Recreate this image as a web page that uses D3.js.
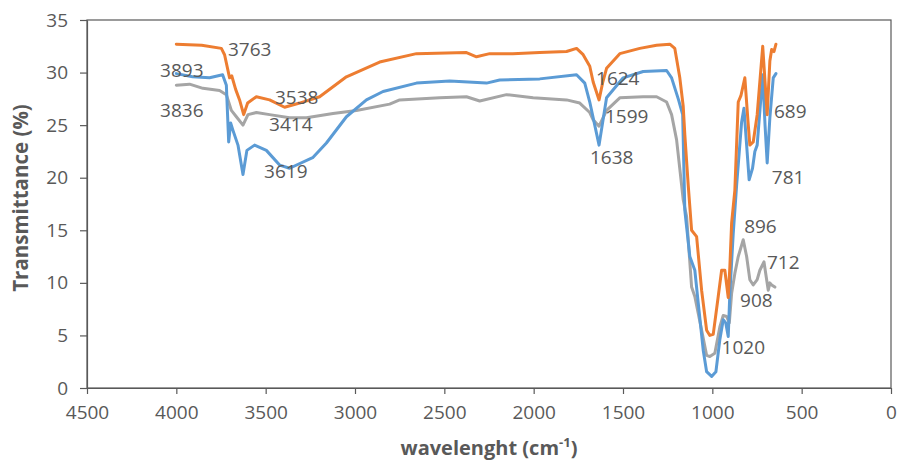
<!DOCTYPE html>
<html><head><meta charset="utf-8">
<script src="https://cdn.jsdelivr.net/npm/d3@7"></script>
<style>
body{margin:0;background:#fff;}
svg{display:block;}
text{font-family:"Open Sans","Noto Sans",sans-serif;fill:#595959;}
</style></head>
<body><svg id="c" width="897" height="463"></svg>
<script>
// ---- data ----
const xTicks = [4500,4000,3500,3000,2500,2000,1500,1000,500,0];
const yTicks = [0,5,10,15,20,25,30,35];

const orangeWn = [4000,3858,3748,3730,3702,3690,3668,3646,3623,3601,3552,3478,3394,3310,3198,3048,2862,2656,2376,2320,2246,2117,1966,1816,1760,1723,1686,1667,1634,1613,1592,1518,1406,1312,1238,1210,1182,1163,1154,1135,1116,1088,1060,1032,1014,995,967,948,930,911,902,892,874,855,840,818,801,790,771,749,718,693,678,668,655,644];
const orangeT  = [32.7,32.6,32.3,31.7,29.5,29.7,28.4,27.4,26.0,27.1,27.7,27.4,26.7,27.1,27.7,29.6,31.0,31.8,31.9,31.5,31.8,31.8,31.9,32.0,32.3,31.7,30.6,29.1,27.4,29.1,30.4,31.8,32.3,32.6,32.7,32.3,29.5,26.8,24.1,19.3,15.0,14.4,9.3,5.5,5.0,5.1,8.7,11.2,11.2,8.6,11.5,15.7,18.8,27.2,27.8,29.5,25.5,23.1,23.4,26.0,32.5,26.0,31.1,32.2,32.0,32.7];

const blueWn = [4000,3909,3814,3741,3720,3707,3696,3683,3655,3627,3605,3562,3496,3422,3366,3237,3160,3048,2936,2843,2656,2470,2264,2190,1966,1760,1714,1686,1634,1592,1499,1387,1256,1228,1189,1166,1154,1126,1098,1079,1051,1032,1004,980,958,939,925,911,902,883,864,836,823,808,794,775,762,749,718,705,693,678,659,644];
const blueT  = [29.9,29.6,29.5,29.8,28.8,23.4,25.2,24.5,23.1,20.3,22.6,23.1,22.6,21.2,20.9,21.9,23.3,25.8,27.4,28.2,29.0,29.2,29.0,29.3,29.4,29.8,29.0,27.2,23.1,27.6,29.5,30.1,30.2,29.5,27.4,26.0,16.9,12.5,11.2,8.1,3.6,1.55,1.1,1.55,4.6,6.5,6.2,4.9,9.0,14.7,19.3,25.3,26.6,23.1,19.8,20.9,22.5,23.1,29.8,25.0,21.4,25.7,29.5,29.9];

const grayWn = [4000,3926,3851,3758,3720,3692,3664,3627,3599,3552,3478,3366,3272,3123,2992,2806,2750,2526,2376,2302,2152,2003,1816,1742,1686,1667,1634,1592,1518,1387,1312,1256,1228,1200,1172,1163,1144,1116,1098,1060,1032,1014,986,958,939,920,905,892,874,855,827,808,790,771,749,734,711,696,687,678,668,650];
const grayT  = [28.8,28.9,28.5,28.3,27.9,26.4,25.8,25.0,26.0,26.2,26.0,25.7,25.7,26.1,26.4,27.0,27.4,27.6,27.7,27.3,27.9,27.6,27.4,27.1,26.2,25.5,24.9,26.4,27.6,27.7,27.7,27.2,26.0,23.6,19.3,17.9,16.3,9.6,8.7,5.5,3.1,3.0,3.3,5.8,6.9,6.8,6.2,9.0,10.9,12.5,14.1,12.5,10.3,9.8,10.3,11.2,12.0,10.3,9.3,10.0,9.8,9.6];

const labelText = ["3763","3893","3836","3538","3414","3619","1624","1599","1638","689","781","896","712","908","1020"];
const labelWn   = [3711,4091,4091,3448,3481,3509,1651,1601,1685,655,667,822,694,845,948];
const labelT    = [31.6,29.6,25.8,27.0,24.4,20.0,28.8,25.2,21.3,25.7,19.4,14.7,11.3,7.7,3.2];

const seriesColors = ["#ED7D31","#5B9BD5","#A5A5A5"];

// ---- chart ----
const svg = d3.select("#c");
const m = {l:87, r:891, t:20, b:388};
const x = d3.scaleLinear().domain([4500,0]).range([m.l,m.r]);
const y = d3.scaleLinear().domain([0,35]).range([m.b,m.t]);

// frame
svg.append("rect").attr("x",m.l).attr("y",m.t).attr("width",m.r-m.l).attr("height",m.b-m.t)
  .attr("fill","none").attr("stroke","#595959").attr("stroke-width",1.2);

const xAxis = svg.append("g").attr("transform",`translate(0,${m.b})`)
  .call(d3.axisBottom(x).tickValues(xTicks).tickSize(6).tickSizeOuter(0).tickPadding(12).tickFormat(d3.format("d")));
const yAxis = svg.append("g").attr("transform",`translate(${m.l},0)`)
  .call(d3.axisLeft(y).tickValues(yTicks).tickSize(7).tickSizeOuter(0).tickPadding(12));
[xAxis,yAxis].forEach(g=>{
  g.selectAll("path,line").attr("stroke","#595959").attr("stroke-width",1.2);
  g.selectAll("text").attr("font-size",19).attr("fill","#595959").attr("font-family","'Open Sans',sans-serif");
});

const line = d3.line().x(d=>x(d[0])).y(d=>y(d[1]));
const sets = [[orangeWn,orangeT],[blueWn,blueT],[grayWn,grayT]];
// draw gray first, then blue, then orange on top
[2,1,0].forEach(i=>{
  const pts = sets[i][0].map((w,k)=>[w,sets[i][1][k]]);
  svg.append("path").datum(pts).attr("d",line).attr("fill","none")
    .attr("stroke",seriesColors[i]).attr("stroke-width",3)
    .attr("stroke-linejoin","round").attr("stroke-linecap","round");
});

// peak labels
labelText.forEach((t,i)=>{
  svg.append("text").attr("x",x(labelWn[i])).attr("y",y(labelT[i]))
    .attr("font-size",19).text(t);
});

// axis titles
svg.append("text").attr("transform",`translate(28,${(m.t+m.b)/2 - 6}) rotate(-90)`)
  .attr("text-anchor","middle").attr("font-size",20.5).attr("font-weight","bold")
  .text("Transmittance (%)");
const xt = svg.append("text").attr("x",(m.l+m.r)/2).attr("y",455)
  .attr("text-anchor","middle").attr("font-size",20).attr("font-weight","bold");
xt.append("tspan").text("wavelenght (cm");
xt.append("tspan").attr("dy",-8).attr("font-size",13).text("-1");
xt.append("tspan").attr("dy",8).text(")");
</script></body></html>
